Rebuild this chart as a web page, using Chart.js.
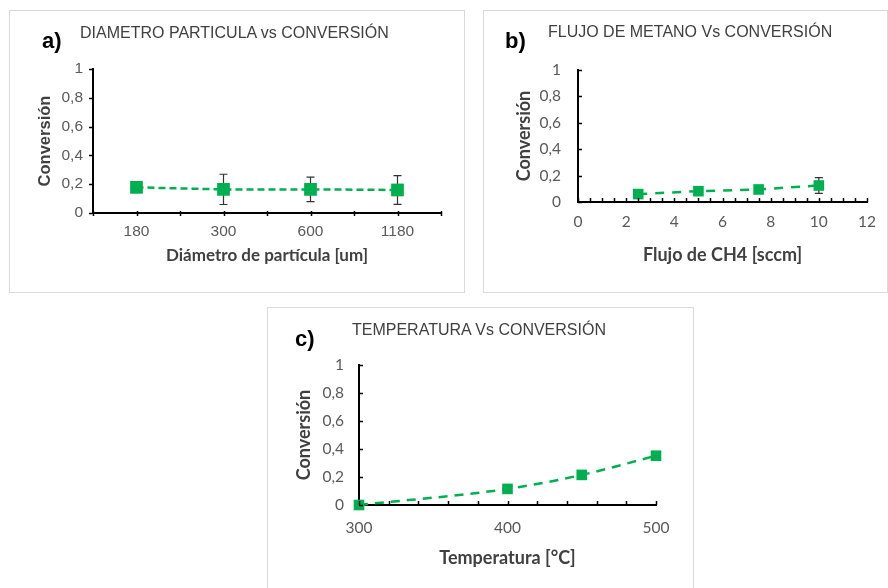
<!DOCTYPE html>
<html>
<head>
<meta charset="utf-8">
<script src="https://cdn.jsdelivr.net/npm/chart.js@4.4.0/dist/chart.umd.min.js"></script>
<style>
  body { margin: 0; width: 888px; height: 588px; background: #fff; position: relative; overflow: hidden; font-family: "Liberation Sans", Arial, sans-serif; }
  .box { position: absolute; border: 1px solid #d9d9d9; box-sizing: border-box; }
  .box canvas { position: absolute; left: 0; top: 0; }
  .lbl { position: absolute; font-weight: bold; font-size: 22px; line-height: 1; color: #000; }
  .ttl { position: absolute; font-size: 16px; line-height: 1; color: #404040; white-space: nowrap; }
</style>
</head>
<body>
<div class="box" style="left:9px;top:10px;width:456px;height:283px"><canvas id="chartA" width="454" height="281"></canvas></div>
<div class="box" style="left:483px;top:10px;width:405px;height:283px"><canvas id="chartB" width="403" height="281"></canvas></div>
<div class="box" style="left:267px;top:307px;width:427px;height:290px"><canvas id="chartC" width="425" height="288"></canvas></div>

<div class="lbl" style="left:42px;top:30px">a)</div>
<div class="ttl" style="left:80px;top:25px">DIAMETRO PARTICULA vs CONVERSIÓN</div>
<div class="lbl" style="left:505px;top:30px">b)</div>
<div class="ttl" style="left:548px;top:24px">FLUJO DE METANO Vs CONVERSIÓN</div>
<div class="lbl" style="left:295px;top:328px">c)</div>
<div class="ttl" style="left:352px;top:322px">TEMPERATURA Vs CONVERSIÓN</div>

<script>
// a) diametro de particula
const diametros = ['180', '300', '600', '1180'];
const conversionA = [0.178, 0.164, 0.164, 0.16];
const errorA = [0.01, 0.105, 0.085, 0.1];

// b) flujo de metano
const flujoCH4 = [2.5, 5, 7.5, 10];
const conversionB = [0.06, 0.082, 0.095, 0.125];
const errorB = [0.03, 0.01, 0.01, 0.06];

// c) temperatura
const temperaturas = [300, 400, 450, 500];
const conversionC = [0, 0.115, 0.215, 0.352];

const verde = '#00B050';
const gris = '#595959';

// barras de error (debajo de los marcadores)
const errorBars = {
  id: 'errorBars',
  beforeDatasetsDraw(chart) {
    const ctx = chart.ctx;
    const y = chart.scales.y;
    chart.data.datasets.forEach((ds, i) => {
      if (!ds.errors) return;
      const meta = chart.getDatasetMeta(i);
      ctx.save();
      ctx.strokeStyle = '#333';
      ctx.lineWidth = 1.2;
      meta.data.forEach((pt, j) => {
        const e = ds.errors[j];
        if (!e) return;
        const d = ds.data[j];
        const v = typeof d === 'object' ? d.y : d;
        const top = y.getPixelForValue(v + e);
        const bot = y.getPixelForValue(v - e);
        ctx.beginPath();
        ctx.moveTo(pt.x, top); ctx.lineTo(pt.x, bot);
        ctx.moveTo(pt.x - 4, top); ctx.lineTo(pt.x + 4, top);
        ctx.moveTo(pt.x - 4, bot); ctx.lineTo(pt.x + 4, bot);
        ctx.stroke();
      });
      ctx.restore();
    });
  }
};

// marcas de los ejes (hacia dentro / hacia fuera)
const tickMarks = {
  id: 'tickMarks',
  afterDraw(chart, args, opts) {
    const ctx = chart.ctx;
    const area = chart.chartArea;
    ctx.save();
    ctx.strokeStyle = '#000';
    ctx.lineWidth = 1.5;
    ['x', 'y'].forEach(id => {
      const s = chart.scales[id];
      const o = opts[id];
      if (!o) return;
      let vals = [];
      if (s.type === 'category') {
        for (let v = -0.5; v <= s.max + 0.5; v += 0.5) vals.push(v);
      } else {
        vals = s.ticks.map(t => t.value);
      }
      vals.forEach(v => {
        const p = Math.round(s.getPixelForValue(v)) + 0.5;
        ctx.beginPath();
        if (id === 'x') {
          ctx.moveTo(p, area.bottom - o.inner); ctx.lineTo(p, area.bottom + o.outer);
        } else {
          ctx.moveTo(area.left - o.outer, p); ctx.lineTo(area.left + o.inner, p);
        }
        ctx.stroke();
      });
    });
    ctx.restore();
  }
};

function yLabel(v) {
  if (v === 0) return '0';
  if (Math.abs(v - 1) < 1e-9) return '1';
  return v.toFixed(1).replace('.', ',');
}

function yScale(w, tickFont, titleFont, pad) {
  return {
    min: 0, max: 1,
    afterFit: s => { s.width = w; },
    ticks: { stepSize: 0.2, callback: yLabel, color: gris, font: tickFont, padding: pad },
    grid: { drawOnChartArea: false, drawTicks: false },
    border: { color: '#000', width: 2 },
    title: { display: true, text: 'Conversión', color: '#404040', font: titleFont, padding: { top: 0, bottom: 0 } }
  };
}

function xBase(h, text, tickFont, titleFont, pad) {
  return {
    afterFit: s => { s.height = h; },
    ticks: { color: gris, font: tickFont, padding: pad, autoSkip: false, maxRotation: 0 },
    grid: { drawOnChartArea: false, drawTicks: false },
    border: { color: '#000', width: 2 },
    title: { display: true, text: text, color: '#404040', font: titleFont, padding: { top: 0, bottom: 0 } }
  };
}

const arial = { family: '"Liberation Sans", Arial', size: 15.5 };
const calibri = { family: 'Lato', size: 15.5 };
const calibriBold = { family: 'Lato', size: 18, weight: 'bold' };

const common = {
  responsive: false,
  animation: false,
  plugins: { legend: { display: false }, tooltip: { enabled: false } }
};

// a)
const xA = xBase(53, 'Diámetro de partícula [um]', arial, { family: 'Lato', size: 17, weight: 'bold' }, 9);
xA.offset = true;
new Chart(document.getElementById('chartA'), {
  type: 'line',
  data: {
    labels: diametros,
    datasets: [{
      data: conversionA,
      errors: errorA,
      clip: false,
      borderColor: verde,
      borderWidth: 2.5,
      borderDash: [7, 4],
      pointStyle: 'rect',
      pointRadius: 9,
      pointBackgroundColor: verde,
      pointBorderColor: verde,
      pointBorderWidth: 0
    }]
  },
  options: Object.assign({}, common, {
    layout: { padding: { left: 26, right: 23, top: 58, bottom: 26 } },
    scales: {
      x: xA,
      y: yScale(57, arial, { family: '"Liberation Sans", Arial', size: 16.5, weight: 'bold' }, 10)
    },
    plugins: Object.assign({}, common.plugins, { tickMarks: { x: { inner: 2, outer: 3 }, y: { inner: 0, outer: 4 } } })
  }),
  plugins: [errorBars, tickMarks]
});

// b)
const xB = xBase(64, 'Flujo de CH4 [sccm]', calibri, calibriBold, 11);
xB.type = 'linear';
xB.min = 0; xB.max = 12;
xB.ticks.stepSize = 0.5;
xB.ticks.callback = v => (v % 2 === 0 ? v : '');
new Chart(document.getElementById('chartB'), {
  type: 'line',
  data: {
    datasets: [{
      data: flujoCH4.map((x, i) => ({ x: x, y: conversionB[i] })),
      errors: errorB,
      clip: false,
      borderColor: verde,
      borderWidth: 2.5,
      borderDash: [9, 8],
      pointStyle: 'rect',
      pointRadius: 7.5,
      pointBackgroundColor: verde,
      pointBorderColor: verde,
      pointBorderWidth: 0
    }]
  },
  options: Object.assign({}, common, {
    layout: { padding: { left: 29, right: 19, top: 59, bottom: 26 } },
    scales: {
      x: xB,
      y: yScale(65, calibri, calibriBold, 17)
    },
    plugins: Object.assign({}, common.plugins, { tickMarks: { x: { inner: 4, outer: 0 }, y: { inner: 4, outer: 0 } } })
  }),
  plugins: [errorBars, tickMarks]
});

// c)
const xC = xBase(64, 'Temperatura [°C]', calibri, calibriBold, 14);
xC.type = 'linear';
xC.min = 300; xC.max = 500;
xC.ticks.stepSize = 20;
xC.ticks.callback = v => (v % 100 === 0 ? v : '');
new Chart(document.getElementById('chartC'), {
  type: 'line',
  data: {
    datasets: [{
      data: temperaturas.map((x, i) => ({ x: x, y: conversionC[i] })),
      clip: false,
      borderColor: verde,
      borderWidth: 2.5,
      borderDash: [9, 7],
      cubicInterpolationMode: 'monotone',
      pointStyle: 'rect',
      pointRadius: 7.5,
      pointBackgroundColor: verde,
      pointBorderColor: verde,
      pointBorderWidth: 0
    }]
  },
  options: Object.assign({}, common, {
    layout: { padding: { left: 25, right: 37, top: 57, bottom: 27 } },
    scales: {
      x: xC,
      y: yScale(66, calibri, calibriBold, 15)
    },
    plugins: Object.assign({}, common.plugins, { tickMarks: { x: { inner: 4, outer: 0 }, y: { inner: 4, outer: 0 } } })
  }),
  plugins: [tickMarks]
});
</script>
</body>
</html>
